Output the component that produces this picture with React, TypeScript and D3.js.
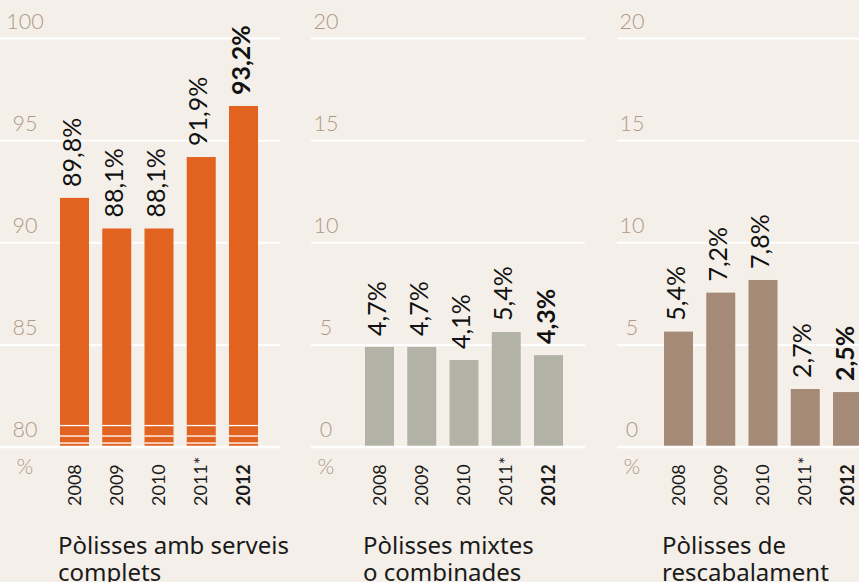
import * as d3 from "d3";

const years = ["2008", "2009", "2010", "2011*", "2012"];

// bar heights as drawn (axis units) and the printed labels
const completsBars = [92.2, 90.7, 90.7, 94.2, 96.7];
const completsLabels = ["89,8%", "88,1%", "88,1%", "91,9%", "93,2%"];
const mixtesBars = [4.9, 4.9, 4.26, 5.63, 4.5];
const mixtesLabels = ["4,7%", "4,7%", "4,1%", "5,4%", "4,3%"];
const rescBars = [5.65, 7.56, 8.18, 2.84, 2.69];
const rescLabels = ["5,4%", "7,2%", "7,8%", "2,7%", "2,5%"];

const completsTicks = [80, 85, 90, 95, 100];
const smallTicks = [0, 5, 10, 15, 20];

const titles = [
  ["Pòlisses amb serveis", "complets"],
  ["Pòlisses mixtes", "o combinades"],
  ["Pòlisses de", "rescabalament"],
];

const W = 859;
const H = 582;
const BG = "#f4f0e9";
const TICK_COLOR = "#b09885";
const NUM_FONT = "Lato, 'Open Sans', sans-serif";
const TITLE_FONT = "'Noto Sans', 'Open Sans', sans-serif";

const panels = [
  {
    x0: 60, gx: [0, 280], tickX: 25, color: "#e2621f",
    ticks: completsTicks, bars: completsBars, labels: completsLabels,
    title: titles[0], broken: true,
  },
  {
    x0: 365, gx: [311, 585], tickX: 326, color: "#b3b2a6",
    ticks: smallTicks, bars: mixtesBars, labels: mixtesLabels,
    title: titles[1], broken: false,
  },
  {
    x0: 664, gx: [617, 870], tickX: 632, color: "#a58a78",
    ticks: smallTicks, bars: rescBars, labels: rescLabels,
    title: titles[2], broken: false,
  },
];

const Panel = ({ p }: { p: (typeof panels)[number] }) => {
  const y = d3
    .scaleLinear()
    .domain([p.ticks[0], p.ticks[p.ticks.length - 1]])
    .range([447, 38.6]);
  const x = d3
    .scaleBand()
    .domain(years)
    .range([p.x0, p.x0 + 4 * 42.25 + 29])
    .paddingInner(13.25 / 42.25);
  const base = y(p.ticks[0]);

  return (
    <g>
      {/* gridlines */}
      {p.ticks.map((t) => (
        <line key={"g" + t} x1={p.gx[0]} x2={p.gx[1]} y1={y(t)} y2={y(t)}
          stroke="#ffffff" strokeWidth={2} />
      ))}
      {p.ticks.map((t) => (
        <text key={"t" + t} x={p.tickX} y={y(t) - 10} textAnchor="middle"
          fill={TICK_COLOR} fontFamily={NUM_FONT} fontWeight={300} fontSize={21.5}>
          {t}
        </text>
      ))}
      <text x={p.tickX} y={474} textAnchor="middle" fill={TICK_COLOR}
        fontFamily={NUM_FONT} fontWeight={300} fontSize={21.5}>%</text>

      {/* bars */}
      {years.map((yr, i) => (
        <rect key={"b" + yr} x={x(yr)} y={y(p.bars[i])} width={x.bandwidth()}
          height={base - y(p.bars[i])} fill={p.color} />
      ))}
      {p.broken &&
        years.map((yr) =>
          [425.5, 436, 443].map((sy) => (
            <rect key={yr + sy} x={x(yr)} y={sy - 0.6} width={x.bandwidth()}
              height={1.3} fill="#ffffff" />
          ))
        )}
      <line x1={p.gx[0]} x2={p.gx[1]} y1={base} y2={base} stroke="#ffffff" strokeWidth={2.3} />

      {/* value labels */}
      {years.map((yr, i) => {
        const cx = (x(yr) as number) + x.bandwidth() / 2 + 6;
        const cy = y(p.bars[i]) - 11;
        return (
          <text key={"l" + yr} transform={`translate(${cx},${cy}) rotate(-90)`}
            fill="#111" fontFamily={NUM_FONT} fontSize={25}
            fontWeight={i === 4 ? 700 : 400}>
            {p.labels[i]}
          </text>
        );
      })}

      {/* year labels */}
      {years.map((yr, i) => {
        const cx = (x(yr) as number) + x.bandwidth() / 2 + 6;
        return (
          <text key={"y" + yr} transform={`translate(${cx},506) rotate(-90)`}
            fill="#1a1a1a" fontFamily={NUM_FONT} fontSize={18}
            fontWeight={i === 4 ? 700 : 400}>
            {yr}
          </text>
        );
      })}

      {/* title */}
      <text x={p.x0 - 2} y={554} fill="#1a1a1a" fontFamily={TITLE_FONT} fontSize={24}>
        <tspan x={p.x0 - 2} y={554}>{p.title[0]}</tspan>
        <tspan x={p.x0 - 2} y={581}>{p.title[1]}</tspan>
      </text>
    </g>
  );
};

export default function App() {
  return (
    <div style={{ position: "absolute", left: 0, top: 0 }}>
      <svg width={W} height={H} style={{ display: "block" }}>
        <rect width={W} height={H} fill={BG} />
        {panels.map((p, i) => (
          <Panel key={i} p={p} />
        ))}
      </svg>
    </div>
  );
}
